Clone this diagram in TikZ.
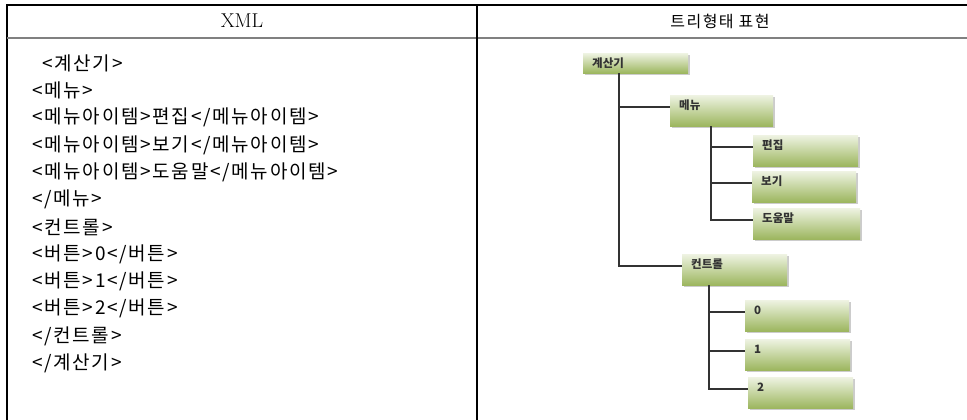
\documentclass[tikz,border=0pt]{standalone}
\usepackage{fontspec}
\newfontfamily\cjk{Noto Sans CJK KR}
\newfontfamily\cjkwide[LetterSpace=9]{Noto Sans CJK KR}
\usetikzlibrary{shadows}
\definecolor{boxtop}{HTML}{9CB65E}
\definecolor{boxbot}{HTML}{EEF3E2}
\definecolor{linkgray}{HTML}{333333}
\tikzset{
  treebox/.style={rectangle, anchor=north west, top color=boxbot, bottom color=boxtop,
    drop shadow={shadow xshift=1.5pt, shadow yshift=-1.5pt, opacity=0.4},
    inner xsep=9pt, inner ysep=0pt, text height=14pt, text depth=17pt,
    text width=#1, align=left, text=black!80,
    font=\cjk\bfseries\fontsize{11.5}{12}\selectfont},
  treebox/.default=86pt,
  link/.style={draw=linkgray, line width=1.4pt},
  xmlline/.style={anchor=west, inner sep=0pt, font=\cjkwide\fontsize{19}{20}\selectfont},
  tabrule/.style={line width=1.5pt}
}
\begin{document}
\begin{tikzpicture}[x=1pt, y=-1pt]
\useasboundingbox (0,0) rectangle (967,420);
% table
\draw[tabrule] (7,420) -- (7,5) -- (967,5);
\draw[tabrule, gray] (7,38) -- (967,38);
\draw[tabrule] (477,5) -- (477,420);
\node[font=\fontsize{20}{20}\selectfont] (hxml) at (242,21) {XML};
\node[font=\cjkwide\fontsize{16}{16}\selectfont] (htree) at (720,21) {트리형태 표현};
% xml text
\node[xmlline] (x1) at (42,63) {<계산기>};
\foreach \t [count=\i from 2] in {<메뉴>, <메뉴아이템>편집</메뉴아이템>,
    <메뉴아이템>보기</메뉴아이템>, <메뉴아이템>도움말</메뉴아이템>, </메뉴>,
    <컨트롤>, <버튼>0</버튼>, <버튼>1</버튼>, <버튼>2</버튼>, </컨트롤>, </계산기>}
  \node[xmlline] (x\i) at (32,{63+27.3*(\i-1)}) {\t};
% tree
\node[treebox=87pt, text depth=6pt] (root) at (583,53) {계산기};
\node[treebox=85pt] (menu) at (670,95) {메뉴};
\node[treebox=87pt] (edit) at (753,135) {편집};
\node[treebox=86pt] (view) at (752,171) {보기};
\node[treebox=89pt] (help) at (753,208) {도움말};
\node[treebox=87pt] (ctrl) at (682,254) {컨트롤};
\node[treebox] (b0) at (745,300) {0};
\node[treebox=87pt] (b1) at (745,339) {1};
\node[treebox=87pt] (b2) at (748,377) {2};
\coordinate (rootstem) at ([xshift=36pt]root.south west);
\coordinate (menustem) at ([xshift=41pt]menu.south west);
\coordinate (ctrlstem) at ([xshift=27pt]ctrl.south west);
\draw[link] (rootstem) |- (menu.mid west);
\draw[link] (rootstem) |- (ctrl.mid west);
\draw[link] (menustem) |- (edit.mid west);
\draw[link] (menustem) |- (view.mid west);
\draw[link] (menustem) |- (help.mid west);
\draw[link] (ctrlstem) |- (b0.mid west);
\draw[link] (ctrlstem) |- (b1.mid west);
\draw[link] (ctrlstem) |- (b2.mid west);
\end{tikzpicture}
\end{document}
